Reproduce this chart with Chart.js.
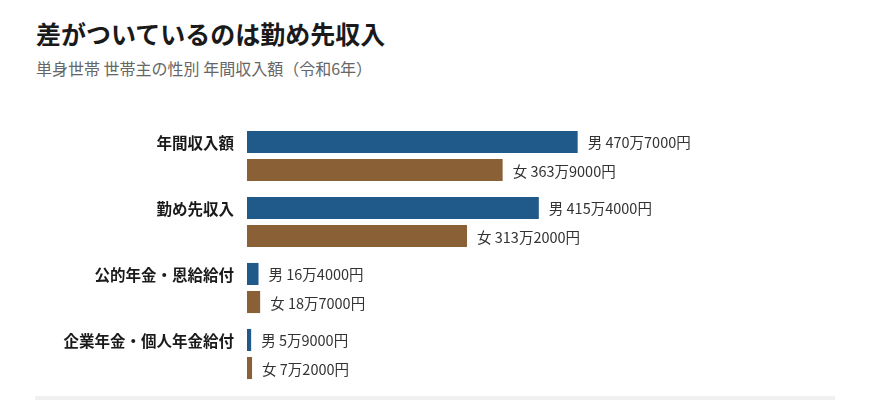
<!DOCTYPE html>
<html lang="ja">
<head>
<meta charset="utf-8">
<script src="https://cdn.jsdelivr.net/npm/chart.js@4"></script>
<style>
  body { margin: 0; background: #fff; font-family: "Noto Sans CJK JP", sans-serif; }
  #wrap { position: relative; width: 870px; height: 400px; overflow: hidden; }
  #title { position: absolute; left: 36px; top: 15px; font-size: 25px; font-weight: 700; color: #1a1a1a; white-space: nowrap; }
  #sub { position: absolute; left: 36px; top: 56px; font-size: 16px; color: #666; white-space: nowrap; }
  #foot { position: absolute; left: 35px; top: 396px; width: 800px; height: 4px; background: #f0f0f0; }
  canvas { position: absolute; left: 0; top: 0; }
</style>
</head>
<body>
<div id="wrap">
  <div id="title">差がついているのは勤め先収入</div>
  <div id="sub">単身世帯 世帯主の性別 年間収入額（令和6年）</div>
  <canvas id="chart" width="870" height="400"></canvas>
  <div id="foot"></div>
</div>
<script>
// 単位: 万円
var categories = ["年間収入額", "勤め先収入", "公的年金・恩給給付", "企業年金・個人年金給付"];
var maleValues = [470.7, 415.4, 16.4, 5.9];
var femaleValues = [363.9, 313.2, 18.7, 7.2];
var seriesNames = ["男", "女"];

function formatYen(v) {
    var yen = Math.round(v * 10000);
    var man = Math.floor(yen / 10000);
    var rest = yen % 10000;
    return man + "万" + (rest > 0 ? rest : "") + "円";
}

// 項目名は男のバーの高さにそろえ、値はバーの右側に描く
var barLabels = {
    id: "barLabels",
    afterDatasetsDraw: function (chart) {
        var ctx = chart.ctx;
        ctx.save();
        ctx.textBaseline = "middle";

        ctx.font = "bold 15.5px 'Noto Sans CJK JP'";
        ctx.fillStyle = "#1a1a1a";
        ctx.textAlign = "right";
        chart.getDatasetMeta(0).data.forEach(function (bar, j) {
            ctx.fillText(chart.data.labels[j], chart.chartArea.left - 13, bar.y + 1);
        });

        ctx.font = "14.5px 'Noto Sans CJK JP'";
        ctx.fillStyle = "#333";
        ctx.textAlign = "left";
        chart.data.datasets.forEach(function (ds, i) {
            chart.getDatasetMeta(i).data.forEach(function (bar, j) {
                ctx.fillText(ds.label + " " + formatYen(ds.data[j]), bar.x + 10, bar.y + 1);
            });
        });
        ctx.restore();
    }
};

new Chart(document.getElementById("chart").getContext("2d"), {
    type: "bar",
    data: {
        labels: categories,
        datasets: [
            { label: seriesNames[0], data: maleValues, backgroundColor: "#1f5a8a" },
            { label: seriesNames[1], data: femaleValues, backgroundColor: "#8a6136" }
        ]
    },
    options: {
        indexAxis: "y",
        responsive: false,
        animation: false,
        categoryPercentage: 0.85,
        barPercentage: 0.786,
        layout: { padding: { top: 123, bottom: 13, left: 0, right: 61 } },
        plugins: {
            legend: { display: false },
            tooltip: { enabled: false }
        },
        scales: {
            x: { display: false, min: 0, max: 800 },
            y: {
                grid: { display: false },
                border: { display: false },
                ticks: { display: false },
                afterFit: function (scale) { scale.width = 247; }
            }
        }
    },
    plugins: [barLabels]
});
</script>
</body>
</html>
